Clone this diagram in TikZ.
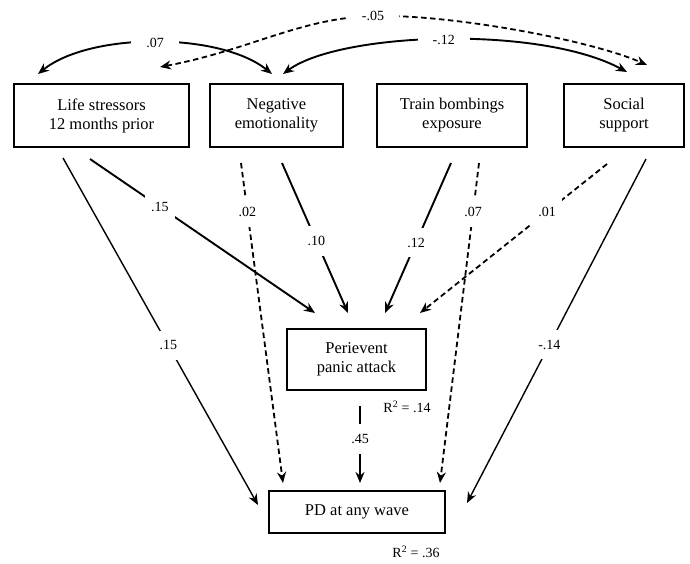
\documentclass[tikz,border=0pt]{standalone}
\usepackage{fontspec}
\setmainfont{Liberation Serif}
\usetikzlibrary{arrows.meta,calc}
\begin{document}
\begin{tikzpicture}[x=1pt,y=-1pt,
  box/.style={draw,line width=1.4pt,inner sep=0pt,align=center,font=\fontsize{16.5}{19}\selectfont},
  tipend/.style={-{Stealth[length=11pt,width=9pt]}},
  bothends/.style={{Stealth[length=11pt,width=9pt]}-{Stealth[length=11pt,width=9pt]}},
  solidln/.style={line width=1.9pt},
  thinln/.style={line width=1.4pt},
  dashln/.style={line width=1.8pt,dash pattern=on 5.5pt off 3.5pt},
  lab/.style={fill=white,inner xsep=6pt,inner ysep=10pt,font=\fontsize{14}{16}\selectfont},
  arclab/.style={fill=white,inner xsep=15pt,inner ysep=3pt,font=\fontsize{14}{16}\selectfont},
  rlab/.style={font=\fontsize{14}{16}\selectfont},
]
\useasboundingbox (0,0) rectangle (690,563);

% boxes
\node[box,minimum width=175pt,minimum height=63pt] (life) at (101.5,115.5) {Life stressors\\12 months prior};
\node[box,minimum width=133pt,minimum height=63pt] (neg) at (276.5,115.5) {Negative\\emotionality};
\node[box,minimum width=150pt,minimum height=63pt] (train) at (452,115.5) {Train bombings\\exposure};
\node[box,minimum width=120pt,minimum height=63pt] (soc) at (624,115.5) {Social\\support};
\node[box,minimum width=139pt,minimum height=61pt] (peri) at (356.5,359.5) {Perievent\\panic attack};
\node[box,minimum width=176pt,minimum height=42pt] (pd) at (357,512) {PD at any wave};

\node[rlab] (r14) at (407,407) {R\textsuperscript{2} = .14};
\node[rlab] (r36) at (416,552) {R\textsuperscript{2} = .36};

% connector end points
\coordinate (lifeA) at (38,74);
\coordinate (negA) at (272,74);
\coordinate (negB) at (283,74);
\coordinate (socA) at (627,72);
\coordinate (lifeC) at (160,67);
\coordinate (peakC) at (373,16);
\coordinate (socC) at (647,65);

\coordinate (l1) at (63,158);
\coordinate (l2) at (90,159);
\coordinate (n1) at (241,163);
\coordinate (n2) at (282,163);
\coordinate (t1) at (451,163);
\coordinate (t2) at (479,163);
\coordinate (s1) at (607,164);
\coordinate (s2) at (646,159);
\coordinate (p1) at (360,406);

\coordinate (pe1) at (315,313);
\coordinate (pe2) at (348,313);
\coordinate (pe3) at (385,313);
\coordinate (pe4) at (420,313);

\coordinate (pd1) at (258,505);
\coordinate (pd2) at (283,483);
\coordinate (pd3) at (360,483);
\coordinate (pd4) at (440,483);
\coordinate (pd5) at (467,503);

% correlations
\draw[bothends,solidln] (lifeA) .. controls (90,32) and (220,32) .. node[arclab,pos=0.5] {.07} (negA);
\draw[bothends,solidln] (negB) .. controls (340,32) and (540,25) .. node[arclab,pos=0.5] {-.12} (socA);
\draw[bothends,dashln] (lifeC) .. controls (250,50) and (300,18) .. (peakC) node[arclab] {-.05}
   .. controls (450,14) and (590,40) .. (socC);

% paths to perievent
\draw[tipend,solidln] (l2) -- node[lab,pos=0.31] {.15} (pe1);
\draw[tipend,solidln] (n2) -- node[lab,pos=0.52] {.10} (pe2);
\draw[tipend,solidln] (t1) -- node[lab,pos=0.53] {.12} (pe3);
\draw[tipend,dashln] (s1) -- node[lab,pos=0.32] {.01} (pe4);

% paths to PD
\draw[tipend,thinln] (l1) -- node[lab,pos=0.54] {.15} (pd1);
\draw[tipend,dashln] (n1) -- node[lab,pos=0.153] {.02} (pd2);
\draw[tipend,solidln] (p1) -- node[lab,pos=0.43] {.45} (pd3);
\draw[tipend,dashln] (t2) -- node[lab,pos=0.153] {.07} (pd4);
\draw[tipend,thinln] (s2) -- node[lab,pos=0.54] {-.14} (pd5);
\end{tikzpicture}
\end{document}
